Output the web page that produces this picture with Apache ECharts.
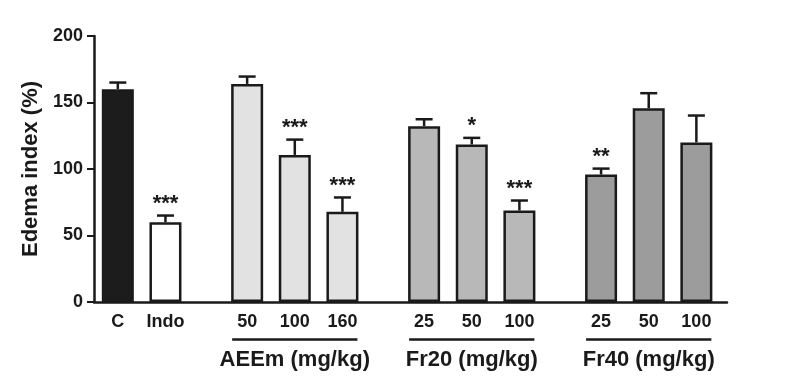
<!DOCTYPE html>
<html>
<head>
<meta charset="utf-8">
<script src="https://cdn.jsdelivr.net/npm/echarts@6/dist/echarts.min.js"></script>
<style>
  html, body { margin: 0; padding: 0; background: #fff; }
  #chart { width: 787px; height: 391px; }
</style>
</head>
<body>
<div id="chart"></div>
<script>
// groups of bars
const barLabels = ['C', 'Indo', '50', '100', '160', '25', '50', '100', '25', '50', '100']
const means = [160, 60, 164, 110.6, 67.8, 132.2, 118.4, 68.8, 95.8, 145.7, 120]
const sems = [5, 5, 5.5, 11.5, 10.8, 5.2, 5, 7.5, 4.5, 11.3, 20.2]
const stars = ['', '***', '', '***', '***', '', '*', '***', '**', '', '']
const blockSizes = [2, 3, 3, 3]
const groupNames = ['AEEm (mg/kg)', 'Fr20 (mg/kg)', 'Fr40 (mg/kg)']
const yTicks = [0, 50, 100, 150, 200]

const fills = ['#1c1c1c', '#ffffff', '#e2e2e2', '#e2e2e2', '#e2e2e2',
  '#b8b8b8', '#b8b8b8', '#b8b8b8', '#9c9c9c', '#9c9c9c', '#9c9c9c']
const INK = '#1a1a1a'
const FONT = '"Liberation Sans", Arial, sans-serif'

// lay bars out on fine slots (Prism-style gaps between blocks)
const STEP = 7, GAP = 12, FIRST = 3, NSLOTS = 93
const slots = []
const sepSlots = []
const blockRanges = []
let s = FIRST
blockSizes.forEach((n, b) => {
  if (b > 0) s += GAP - STEP
  const start = slots.length
  for (let i = 0; i < n; i++) {
    slots.push(s)
    s += STEP
  }
  blockRanges.push([slots[start], slots[slots.length - 1]])
  if (b < blockSizes.length - 1) sepSlots.push(slots[slots.length - 1] + 5)
})

const categories = Array.from({ length: NSLOTS }, () => '')
slots.forEach((k, i) => { categories[k] = barLabels[i] })
const tickSlots = new Set(slots.concat(sepSlots))

const chart = echarts.init(document.getElementById('chart'))

chart.setOption({
  animation: false,
  backgroundColor: '#fff',
  grid: { left: 94, top: 36, width: 633, height: 266, containLabel: false },
  xAxis: {
    type: 'category',
    data: categories,
    boundaryGap: true,
    axisLine: { lineStyle: { color: INK, width: 2.5 } },
    axisTick: {
      alignWithLabel: true,
      length: 6,
      lineStyle: { color: INK, width: 2 },
      interval: (idx) => tickSlots.has(idx),
    },
    axisLabel: {
      interval: 0,
      margin: 11,
      color: INK,
      fontFamily: FONT,
      fontWeight: 'bold',
      fontSize: 18,
    },
    splitLine: { show: false },
  },
  yAxis: {
    type: 'value',
    min: yTicks[0],
    max: yTicks[yTicks.length - 1],
    interval: 50,
    name: 'Edema index (%)',
    nameLocation: 'middle',
    nameRotate: 90,
    nameGap: 50,
    nameTextStyle: { color: INK, fontFamily: FONT, fontWeight: 'bold', fontSize: 22 },
    axisLine: { show: true, lineStyle: { color: INK, width: 2.5 } },
    axisTick: { show: true, length: 7, lineStyle: { color: INK, width: 2 } },
    axisLabel: { color: INK, fontFamily: FONT, fontWeight: 'bold', fontSize: 18, margin: 11 },
    splitLine: { show: false },
  },
  series: [
    {
      type: 'bar',
      barWidth: 32,
      data: means.map((v, i) => ({
        value: [slots[i], v],
        itemStyle: { color: fills[i], borderColor: INK, borderWidth: 2.5 },
      })),
      z: 2,
    },
    {
      // upper error bars + significance stars
      type: 'custom',
      clip: false,
      z: 3,
      encode: { x: 0, y: 1 },
      data: means.map((v, i) => [slots[i], v, v + sems[i], i]),
      renderItem: (params, api) => {
        const top = api.coord([api.value(0), api.value(1)])
        const cap = api.coord([api.value(0), api.value(2)])
        const star = stars[api.value(3)]
        const children = [
          { type: 'line', shape: { x1: top[0], y1: top[1], x2: cap[0], y2: cap[1] },
            style: { stroke: INK, lineWidth: 2.5 } },
          { type: 'line', shape: { x1: cap[0] - 8.5, y1: cap[1], x2: cap[0] + 8.5, y2: cap[1] },
            style: { stroke: INK, lineWidth: 2.5 } },
        ]
        if (star) {
          children.push({
            type: 'text',
            style: {
              text: star, x: cap[0], y: cap[1] - 1,
              align: 'center', verticalAlign: 'bottom',
              fill: INK, font: 'bold 22px ' + FONT,
            },
          })
        }
        return { type: 'group', children }
      },
    },
    {
      // group underline and title under the x axis
      type: 'custom',
      clip: false,
      z: 3,
      silent: true,
      encode: { x: 0, y: 1 },
      data: blockRanges.slice(1).map((r, g) => [r[0], 0, r[1], g]),
      renderItem: (params, api) => {
        const a = api.coord([api.value(0), 0])
        const b = api.coord([api.value(2), 0])
        const cx = (a[0] + b[0]) / 2
        return {
          type: 'group',
          children: [
            { type: 'line', shape: { x1: a[0] - 15, y1: a[1] + 37.5, x2: b[0] + 15, y2: a[1] + 37.5 },
              style: { stroke: INK, lineWidth: 2.5 } },
            { type: 'text',
              style: {
                text: groupNames[api.value(3)], x: cx, y: a[1] + 58,
                align: 'center', verticalAlign: 'middle',
                fill: INK, font: 'bold 22px ' + FONT,
              } },
          ],
        }
      },
    },
  ],
})
</script>
</body>
</html>
